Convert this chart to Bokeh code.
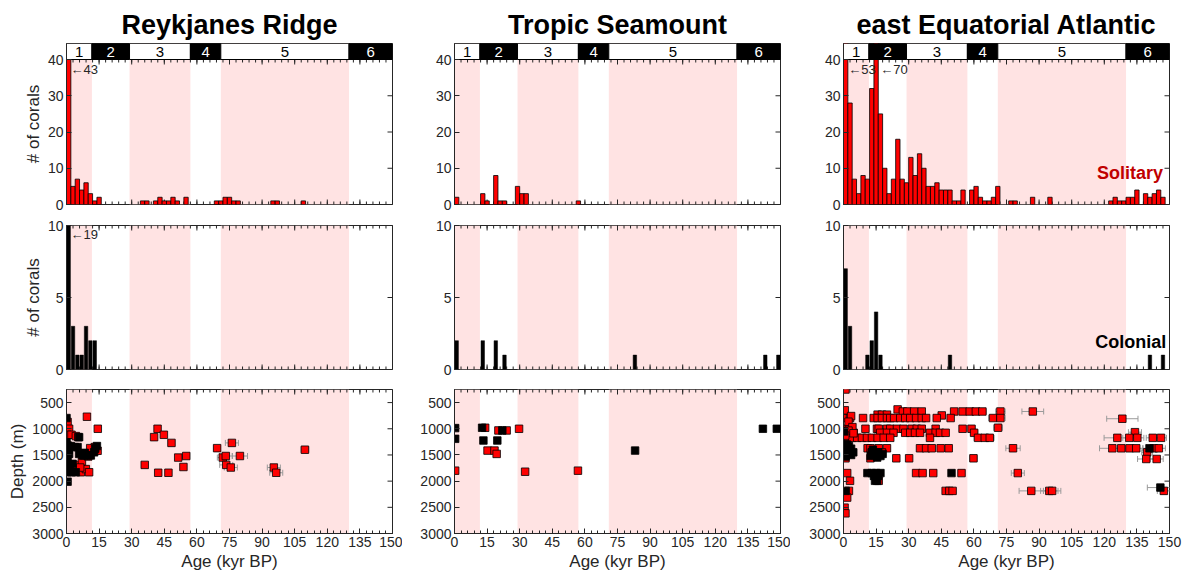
from math import pi
from bokeh.plotting import figure
from bokeh.layouts import gridplot
from bokeh.models import (ColumnDataSource, FixedTicker, LinearAxis, Range1d, Whisker,
                          TeeHead, Label, BoxAnnotation)
from bokeh.embed import file_html
from bokeh.resources import INLINE
from bokeh.core.properties import value

# ---------------- data ----------------
SITES = ["Reykjanes Ridge", "Tropic Seamount", "east Equatorial Atlantic"]
MIS_EDGES = [0, 11.7, 29, 57, 71, 130, 150]
MIS_LABELS = ["1", "2", "3", "4", "5", "6"]
BIN = 2  # kyr

# Solitary coral counts (left edge of 2-kyr bin, count)
rr_sol_bin = [0, 2, 4, 6, 8, 10, 12, 14, 34, 36, 40, 42, 44, 46, 48, 50, 54, 68, 70, 72, 74, 76, 78, 94, 96, 108]
rr_sol_n = [43, 5, 7, 4, 6, 3, 1, 2, 1, 1, 1, 2, 1, 1, 2, 1, 2, 1, 1, 2, 2, 1, 1, 1, 1, 1]
ts_sol_bin = [0, 12, 14, 18, 20, 22, 28, 30, 32, 56]
ts_sol_n = [2, 3, 1, 8, 1, 1, 5, 3, 3, 1]
ea_sol_bin = [0, 2, 4, 6, 8, 10, 12, 14, 16, 18, 20, 22, 24, 26, 28, 30, 32, 34, 36, 38, 40, 42, 44, 46,
              48, 50, 52, 54, 58, 60, 62, 64, 66, 68, 70, 76, 78, 86, 94,
              122, 124, 126, 128, 130, 132, 134, 138, 140, 142, 144, 146]
ea_sol_n = [53, 28, 7, 3, 8, 7, 32, 70, 25, 10, 3, 7, 18, 7, 6, 13, 8, 14, 10, 5, 5, 6, 4, 4,
            4, 1, 1, 4, 4, 5, 2, 1, 1, 2, 5, 1, 1, 2, 2,
            1, 2, 1, 1, 2, 2, 4, 3, 2, 3, 4, 2]

# Colonial coral counts
rr_col_bin = [0, 2, 4, 6, 8, 10, 12]
rr_col_n = [19, 3, 1, 1, 3, 2, 2]
ts_col_bin = [0, 12, 18, 22, 82, 142, 148]
ts_col_n = [2, 2, 2, 1, 1, 1, 1]
ea_col_bin = [0, 2, 10, 12, 14, 16, 48, 140, 146]
ea_col_n = [7, 3, 1, 2, 4, 1, 1, 1, 1]

# Depth vs age: solitary (red) and colonial (black); err = age uncertainty (kyr)
rr_s_age = [0.5, 1.2, 0.5, 2.3, 4.3, 5.4, 0.2, 3.8, 6.6, 7.1, 8.9, 10.4, 14.3, 13.0, 10.9, 10.0, 8.1, 6.3, 9.4, 14.4,
            41.9, 40.3, 44.8, 48.3, 76.1, 69.3, 109.7, 55.1, 51.4, 71.9, 73.3, 79.8, 73.5, 75.6, 36.0, 53.8, 42.2, 46.9, 95.4, 96.5]
rr_s_dep = [870, 1000, 1115, 1115, 1140, 1160, 1510, 1690, 1830, 1630, 1770, 1830, 1420, 1350, 1370, 1530, 1510, 1740, 770, 1000,
            1000, 1160, 1115, 1270, 1270, 1370, 1400, 1520, 1550, 1550, 1520, 1520, 1690, 1740, 1690, 1730, 1840, 1840, 1740, 1840]
rr_s_err = [0.3, 0.3, 0.3, 0.3, 0.3, 0.3, 0.3, 0.3, 0.4, 0.4, 0.4, 0.4, 0.6, 0.5, 0.5, 0.5, 0.4, 0.4, 0.5, 0.6,
            0.9, 0.9, 1.0, 1.5, 3.0, 1.5, 1.8, 1.2, 1.2, 2.5, 3.0, 3.5, 3.0, 3.0, 1.0, 1.2, 1.0, 1.0, 3.0, 3.0]
rr_c_age = [0, 0, 0.5, 0.5, 0.5, 0.5, 0.5, 0.5, 1.2, 2.0, 3.8, 5.8, 5.8, 7.4, 8.4, 9.7, 11.2, 12.7, 14.0, 13.2, 2.3, 4.3, 2.8, 5.1, 1.0, 1.5]
rr_c_dep = [795, 1260, 1320, 1450, 1580, 1700, 1830, 2010, 1480, 1330, 1350, 1160, 1480, 1510, 1460, 1510, 1510, 1450, 1330, 1380, 1830, 1830, 1670, 1350, 1400, 1750]
rr_c_err = [0.2, 0.2, 0.2, 0.2, 0.2, 0.2, 0.2, 0.2, 0.2, 0.3, 0.3, 0.3, 0.3, 0.4, 0.4, 0.4, 0.5, 0.5, 0.6, 0.5, 0.3, 0.3, 0.3, 0.3, 0.2, 0.2]

ts_s_age = [0.3, 14.1, 15.2, 18.4, 19.4, 20.2, 24.0, 29.7, 32.5, 56.8]
ts_s_dep = [1800, 981, 1417, 1417, 1480, 1032, 1032, 1000, 1820, 1800]
ts_s_err = [0.2, 0.5, 0.6, 0.6, 0.6, 0.6, 0.7, 0.9, 1.0, 1.0]
ts_c_age = [0.3, 0.3, 12.7, 13.3, 19.7, 22.0, 141.9, 148.3, 83.1]
ts_c_dep = [987, 1192, 981, 1224, 1224, 1032, 1000, 1000, 1417]
ts_c_err = [0.2, 0.2, 0.5, 0.5, 0.5, 0.6, 1.2, 1.0, 1.0]

ea_s_age = [0.9, 24.9, 27.3, 29.4, 32.5, 36.0, 50.9, 54.8, 58.1, 60.9, 63.9, 72.2, 87.1,
            15.7, 17.7, 20.0, 45.2,
            0.9, 3.0, 9.0, 13.9, 15.7, 17.7, 20.0, 21.5, 23.3, 26.1, 28.4, 30.7, 33.4, 36.0, 38.0, 42.9, 49.3, 68.8, 72.2,
            128.3,
            0.9, 2.5, 10.1, 15.4, 16.2, 20.0, 21.5, 24.6, 27.6, 31.4, 33.7, 36.0, 42.4, 54.8, 58.9, 71.1,
            0.9, 3.2, 4.7, 16.9, 20.0, 23.0, 28.4, 30.7, 32.9, 35.2, 39.8, 42.4, 44.4, 47.0, 60.1, 134.1,
            0.9, 2.0, 4.0, 6.3, 8.5, 10.8, 13.1, 15.7, 18.5, 21.5, 39.8, 61.9, 65.0, 67.3,
            126.0, 131.5, 135.2, 142.3, 146.1,
            11.1, 12.4, 16.2, 20.0, 35.2, 38.0, 40.6, 44.7, 48.4, 78.0,
            123.7, 127.8, 131.6, 134.7, 142.7, 145.1, 139.7,
            13.1, 15.4, 17.7,
            0.9, 12.4, 24.3, 30.2, 59.8, 139.3, 144.1,
            1.7, 33.4, 36.4, 41.3, 54.3, 80.2,
            3.0, 16.2,
            2.5, 47.0, 48.7, 50.2, 86.4, 94.7, 96.0, 147.4,
            1.7, 0.5, 0.9,
            0.6, 3.5, 2.3, 4.1, 2.3, 4.6, 0.8]
ea_s_dep = [250, 630, 670, 670, 670, 670, 670, 670, 670, 670, 670, 670, 670,
            730, 730, 730, 745,
            795, 795, 795, 795, 795, 795, 795, 795, 795, 795, 795, 795, 795, 795, 795, 795, 795, 795, 795,
            808,
            1000, 1000, 1000, 1000, 1000, 1000, 1000, 1000, 1000, 1000, 1000, 1000, 1000, 1000, 1000, 980,
            1077, 1077, 1077, 1077, 1077, 1077, 1077, 1077, 1077, 1077, 1077, 1077, 1077, 1077, 1077, 1065,
            1173, 1173, 1173, 1173, 1173, 1173, 1173, 1173, 1173, 1173, 1173, 1173, 1173, 1173,
            1173, 1173, 1173, 1173, 1173,
            1372, 1372, 1372, 1372, 1372, 1372, 1372, 1372, 1372, 1372,
            1373, 1373, 1373, 1373, 1373, 1373, 1450,
            1450, 1450, 1450,
            1564, 1564, 1564, 1564, 1564, 1577, 1577,
            1846, 1846, 1846, 1846, 1846, 1846,
            1994, 1994,
            2186, 2186, 2186, 2186, 2186, 2186, 2186, 2186,
            2314, 2506, 2615,
            648, 757, 865, 968, 1035, 1086, 1130]
ea_s_err = [0.3, 0.8, 0.8, 0.9, 1.0, 1.0, 1.5, 1.5, 1.6, 1.6, 1.8, 2.2, 5.0,
            0.5, 0.5, 0.6, 1.4,
            0.3, 0.3, 0.4, 0.5, 0.5, 0.5, 0.6, 0.6, 0.7, 0.8, 0.8, 0.9, 1.0, 1.0, 1.1, 1.2, 1.4, 2.0, 2.2,
            7.2,
            0.3, 0.3, 0.4, 0.5, 0.5, 0.6, 0.6, 0.7, 0.8, 0.9, 1.0, 1.0, 1.2, 1.5, 1.6, 2.0,
            0.3, 0.3, 0.3, 0.5, 0.6, 0.7, 0.8, 0.9, 1.0, 1.0, 1.1, 1.2, 1.3, 1.4, 1.7, 3.0,
            0.3, 0.3, 0.3, 0.3, 0.4, 0.4, 0.5, 0.5, 0.6, 0.6, 1.1, 1.8, 1.9, 2.0,
            6.1, 3.0, 3.0, 3.0, 2.5,
            0.4, 0.5, 0.5, 0.6, 1.0, 1.1, 1.2, 1.3, 1.4, 3.3,
            5.9, 3.0, 3.0, 3.0, 3.0, 3.0, 2.5,
            0.5, 0.5, 0.5,
            0.3, 0.5, 0.7, 0.9, 1.7, 4.0, 3.0,
            0.3, 1.0, 1.0, 1.2, 1.5, 3.0,
            0.3, 0.5,
            0.3, 1.4, 1.4, 1.5, 5.6, 4.0, 4.0, 3.0,
            0.3, 0.3, 0.3,
            0.3, 0.3, 0.3, 0.3, 0.3, 0.3, 0.3]
ea_c_age = [0.5, 1.5, 2.5, 3.5, 0.5, 1.5, 2.5, 3.5, 1.0, 4.5, 0.3,
            13.0, 14.5, 15.5, 17.0, 13.5, 16.0, 18.0, 12.5,
            11.0, 13.0, 15.0, 17.0, 14.0, 16.0, 14.5, 15.5,
            49.7, 1.0, 140.8, 145.8]
ea_c_dep = [1300, 1300, 1330, 1380, 1450, 1420, 1480, 1500, 1530, 1450, 1050,
            1450, 1500, 1550, 1520, 1400, 1450, 1480, 1520,
            1846, 1846, 1846, 1846, 1900, 1900, 1994, 1994,
            1846, 2186, 1373, 2123]
ea_c_err = [0.2, 0.2, 0.2, 0.2, 0.2, 0.2, 0.2, 0.2, 0.2, 0.3, 0.2,
            0.5, 0.5, 0.5, 0.5, 0.5, 0.5, 0.5, 0.5,
            0.5, 0.5, 0.5, 0.5, 0.5, 0.5, 0.5, 0.5,
            1.4, 0.2, 3.0, 6.0]

SOL = [(rr_sol_bin, rr_sol_n), (ts_sol_bin, ts_sol_n), (ea_sol_bin, ea_sol_n)]
COL = [(rr_col_bin, rr_col_n), (ts_col_bin, ts_col_n), (ea_col_bin, ea_col_n)]
SCAT_S = [(rr_s_age, rr_s_dep, rr_s_err), (ts_s_age, ts_s_dep, ts_s_err), (ea_s_age, ea_s_dep, ea_s_err)]
SCAT_C = [(rr_c_age, rr_c_dep, rr_c_err), (ts_c_age, ts_c_dep, ts_c_err), (ea_c_age, ea_c_dep, ea_c_err)]

# clipped-bar annotations: (site index, row, x, y, text)
CLIP_NOTES = [(0, "sol", 1.8, 37.3, "\u219043"), (0, "col", 1.8, 9.35, "\u219019"),
              (2, "sol", 2.2, 37.3, "\u219053"), (2, "sol", 16.9, 37.3, "\u219070")]

# ---------------- style ----------------
FONT = "Liberation Sans"
AXC = "#262626"
PINK = "#FFE3E3"
RED = "#FF0000"
FW = 326
SOL_FH = 145      # px of the count area
STAGE_H = 16      # px of the stage bar
BORDERS = [(66, 10), (52, 10), (53, 14)]
XT = list(range(0, 151, 15))
XMINOR = list(range(0, 151, 3))
SOL_YMAX = 40
SOL_TOP = SOL_YMAX * (SOL_FH + STAGE_H) / SOL_FH   # range end including stage bar band


def style_axis(ax):
    ax.axis_line_color = AXC
    ax.major_tick_line_color = AXC
    ax.minor_tick_line_color = AXC
    ax.major_tick_in = 5
    ax.major_tick_out = 0
    ax.minor_tick_in = 3
    ax.minor_tick_out = 0
    ax.major_label_text_font = FONT
    ax.major_label_text_color = AXC
    ax.major_label_text_font_size = "14px"
    ax.major_label_standoff = 3
    ax.axis_label_text_font = FONT
    ax.axis_label_text_color = AXC
    ax.axis_label_text_font_style = "normal"
    ax.axis_label_text_font_size = "17px"
    ax.axis_label_standoff = 2


def panel(col, yr, fh, top, bottom, title=None):
    lb, rb = BORDERS[col]
    kw = dict(title=title) if title else {}
    p = figure(frame_width=FW, frame_height=fh, x_range=Range1d(0, 150), y_range=yr,
               output_backend="svg", toolbar_location=None,
               min_border_left=lb, min_border_right=rb, min_border_top=top, min_border_bottom=bottom,
               x_axis_location=None, y_axis_location=None, **kw)
    p.grid.grid_line_color = None
    p.outline_line_color = AXC
    p.background_fill_color = "white"
    p.border_fill_color = "white"
    for i in range(0, len(MIS_EDGES) - 1, 2):
        p.add_layout(BoxAnnotation(left=MIS_EDGES[i], right=MIS_EDGES[i + 1], fill_color=PINK,
                                   fill_alpha=1, line_alpha=0, level="underlay"))
    return p


def edge_ticks(p, y_bottom, y_top, y_right_ticks, bottom_ticks=True):
    """inward tick marks on edges without labelled axes (half of each dash is clipped by the frame)"""
    ys = [y_top] + ([y_bottom] if bottom_ticks else [])
    for yy in ys:
        p.scatter(x=XMINOR, y=[yy] * len(XMINOR), marker="dash", angle=pi / 2, size=6,
                  line_color=AXC, line_width=1)
        p.scatter(x=XT, y=[yy] * len(XT), marker="dash", angle=pi / 2, size=10,
                  line_color=AXC, line_width=1)
    p.scatter(x=[150] * len(y_right_ticks), y=y_right_ticks, marker="dash", size=10,
              line_color=AXC, line_width=1)


def left_axis(p, yticks, label=None):
    ax = LinearAxis(ticker=FixedTicker(ticks=yticks, minor_ticks=[]))
    style_axis(ax)
    if label:
        ax.axis_label = label
    p.add_layout(ax, "left")


rows = [[], [], []]
for c in range(3):
    # solitary + stage bar
    yt = [0, 10, 20, 30, 40]
    p = panel(c, Range1d(0, SOL_TOP), SOL_FH + STAGE_H, 43, 10, title=SITES[c])
    p.title.text_font = FONT
    p.title.text_font_size = "27px"
    p.title.text_font_style = "bold"
    p.title.text_color = "black"
    p.title.align = "center"
    p.title.standoff = 7
    edge_ticks(p, 0, SOL_YMAX, yt)
    b, n = SOL[c]
    p.quad(left=b, right=[x + BIN for x in b], bottom=0, top=n, fill_color=RED, line_color="black", line_width=0.8)
    fills = ["white" if i % 2 == 0 else "black" for i in range(len(MIS_LABELS))]
    tcols = ["black" if i % 2 == 0 else "white" for i in range(len(MIS_LABELS))]
    ssrc = ColumnDataSource(dict(l=MIS_EDGES[:-1], r=MIS_EDGES[1:],
                                 c=[(a + e) / 2 for a, e in zip(MIS_EDGES[:-1], MIS_EDGES[1:])],
                                 lab=MIS_LABELS, f=fills, tc=tcols))
    p.quad(left="l", right="r", bottom=SOL_YMAX, top=SOL_TOP, fill_color="f", line_color="black",
           line_width=1, source=ssrc)
    p.text(x="c", y=(SOL_YMAX + SOL_TOP) / 2, text="lab", text_color="tc", text_align="center",
           text_baseline="middle", text_font=value(FONT), text_font_size="15px", source=ssrc)
    left_axis(p, yt, "# of corals" if c == 0 else None)
    rows[0].append(p)

    # colonial
    yt = [0, 5, 10]
    q = panel(c, Range1d(0, 10), 144, 11, 10)
    edge_ticks(q, 0, 10, yt)
    b, n = COL[c]
    q.vbar(x=[x + BIN / 2 for x in b], width=BIN * 0.8, bottom=0, top=n, fill_color="black", line_color="black",
           line_width=0.5)
    left_axis(q, yt, "# of corals" if c == 0 else None)
    rows[1].append(q)

    # depth scatter
    yt = [500, 1000, 1500, 2000, 2500, 3000]
    d = panel(c, Range1d(3000, 250), 144, 10, 44)
    edge_ticks(d, 3000, 250, yt, bottom_ticks=False)
    for (age, dep, err), fc in ((SCAT_S[c], RED), (SCAT_C[c], "black")):
        src = ColumnDataSource(dict(age=age, dep=dep, lo=[a - e for a, e in zip(age, err)],
                                    hi=[a + e for a, e in zip(age, err)]))
        w = Whisker(source=src, base="dep", lower="lo", upper="hi", dimension="width",
                    line_color="#9A9A9A", line_width=1, level="underlay",
                    upper_head=TeeHead(size=6, line_color="#9A9A9A", line_width=1),
                    lower_head=TeeHead(size=6, line_color="#9A9A9A", line_width=1))
        d.add_layout(w)
        d.scatter(x="age", y="dep", source=src, marker="square", size=7.5, fill_color=fc,
                  line_color="black", line_width=0.8)
    left_axis(d, yt, "Depth (m)" if c == 0 else None)
    bx = LinearAxis(ticker=FixedTicker(ticks=XT, minor_ticks=XMINOR), axis_label="Age (kyr BP)")
    style_axis(bx)
    d.add_layout(bx, "below")
    rows[2].append(d)

for site, row, x, y, txt in CLIP_NOTES:
    fig = rows[0][site] if row == "sol" else rows[1][site]
    fig.add_layout(Label(x=x, y=y, text=txt, text_font=FONT, text_font_size="13px", text_color=AXC,
                         text_align="left", text_baseline="middle"))

rows[0][2].add_layout(Label(x=147, y=8.8, text="Solitary", text_font=FONT, text_font_size="18px",
                            text_font_style="bold", text_color="#C00000", text_align="right",
                            text_baseline="middle"))
rows[1][2].add_layout(Label(x=148.5, y=1.9, text="Colonial", text_font=FONT, text_font_size="18px",
                            text_font_style="bold", text_color="black", text_align="right",
                            text_baseline="middle"))

grid = gridplot(rows, toolbar_location=None)
open("out.html", "w").write(file_html(grid, INLINE))
